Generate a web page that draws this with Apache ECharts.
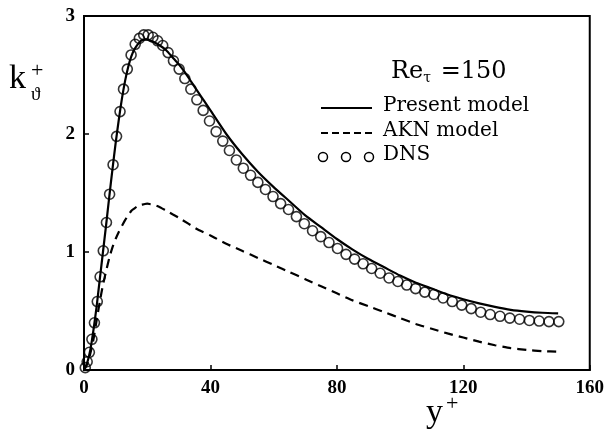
<!DOCTYPE html>
<html>
<head>
<meta charset="utf-8">
<script src="https://cdn.jsdelivr.net/npm/echarts@6/dist/echarts.min.js"></script>
<style>
    html, body { margin: 0; padding: 0; background: #fff; }
    #chart { width: 607px; height: 434px; }
</style>
</head>
<body>
<div id="chart"></div>
<script>
// DNS points (y+, k)
const dnsX = [0.4, 1.0, 1.7, 2.5, 3.3, 4.2, 5.1, 6.1, 7.1, 8.1, 9.2, 10.3, 11.4, 12.5, 13.7, 14.9, 16.2, 17.5, 18.9, 20.3,
    21.8, 23.3, 24.9, 26.6, 28.3, 30.1, 31.9, 33.8, 35.7, 37.7, 39.7, 41.8, 43.9, 46.0, 48.2, 50.4, 52.7, 55.0, 57.4, 59.8,
    62.2, 64.7, 67.2, 69.7, 72.3, 74.9, 77.5, 80.2, 82.9, 85.6, 88.3, 91.0, 93.7, 96.5, 99.3, 102.1, 104.9, 107.8, 110.7, 113.6,
    116.5, 119.5, 122.5, 125.5, 128.5, 131.6, 134.7, 137.8, 140.9, 144.0, 147.1, 150.2];
const dnsK = [0.02, 0.07, 0.15, 0.26, 0.40, 0.58, 0.79, 1.01, 1.25, 1.49, 1.74, 1.98, 2.19, 2.38, 2.55, 2.67, 2.76, 2.81, 2.84, 2.84,
    2.82, 2.79, 2.75, 2.69, 2.62, 2.55, 2.47, 2.38, 2.29, 2.20, 2.11, 2.02, 1.94, 1.86, 1.78, 1.71, 1.65, 1.59, 1.53, 1.47,
    1.41, 1.36, 1.30, 1.24, 1.18, 1.13, 1.08, 1.03, 0.98, 0.94, 0.90, 0.86, 0.82, 0.78, 0.75, 0.72, 0.69, 0.66, 0.64, 0.61,
    0.58, 0.55, 0.52, 0.49, 0.47, 0.455, 0.44, 0.43, 0.42, 0.415, 0.41, 0.41];

// Present model
const presentX = [0, 1, 2, 3, 4, 5, 6, 7, 8, 9, 10, 11, 12, 13, 14, 15, 16, 17, 18, 19, 20, 21, 22, 24, 26, 28, 30, 32, 34, 36, 38, 40,
    45, 50, 55, 60, 65, 70, 75, 80, 85, 90, 95, 100, 105, 110, 115, 120, 125, 130, 135, 140, 145, 150];
const presentK = [0, 0.06, 0.17, 0.34, 0.54, 0.77, 1.00, 1.23, 1.47, 1.70, 1.92, 2.12, 2.30, 2.45, 2.57, 2.66, 2.72, 2.76, 2.79, 2.80, 2.80, 2.79, 2.78, 2.75, 2.71, 2.65, 2.59, 2.52, 2.44, 2.36, 2.28, 2.20,
    2.00, 1.83, 1.68, 1.55, 1.43, 1.31, 1.21, 1.11, 1.02, 0.94, 0.87, 0.80, 0.74, 0.69, 0.64, 0.60, 0.565, 0.535, 0.51, 0.495, 0.485, 0.48];

// AKN model
const aknX = [0, 1, 2, 3, 4, 5, 6, 7, 8, 9, 10, 11, 12, 13, 14, 15, 16, 17, 18, 19, 20, 21, 22, 24, 26, 28, 30, 33, 36, 40,
    45, 50, 55, 60, 65, 70, 75, 80, 85, 90, 95, 100, 105, 110, 115, 120, 125, 130, 135, 140, 145, 150];
const aknK = [0, 0.05, 0.14, 0.26, 0.42, 0.58, 0.72, 0.84, 0.95, 1.04, 1.11, 1.17, 1.22, 1.27, 1.31, 1.35, 1.37, 1.39, 1.40, 1.405, 1.41, 1.405, 1.40, 1.38, 1.35, 1.32, 1.29, 1.24, 1.19, 1.14,
    1.07, 1.01, 0.95, 0.89, 0.83, 0.77, 0.71, 0.65, 0.59, 0.54, 0.49, 0.44, 0.39, 0.35, 0.31, 0.275, 0.24, 0.21, 0.185, 0.17, 0.16, 0.155];

const serif = '"Liberation Serif", "DejaVu Serif", serif';
const wideSerif = '"DejaVu Serif", "Liberation Serif", serif';

function pairs(xs, ys) {
    return xs.map((x, i) => [x, ys[i]]);
}

const chart = echarts.init(document.getElementById('chart'));

const option = {
    animation: false,
    backgroundColor: '#fff',
    grid: {
        left: 84, right: 17, top: 16, bottom: 64,
        show: true, borderColor: '#000', borderWidth: 2
    },
    xAxis: {
        type: 'value', min: 0, max: 160, interval: 40,
        axisLine: { show: true, lineStyle: { color: '#000', width: 2 } },
        axisTick: { show: true, inside: true, length: 5, lineStyle: { color: '#000', width: 1.5 } },
        axisLabel: { color: '#000', fontFamily: serif, fontSize: 19, fontWeight: 'bold', margin: 9 },
        splitLine: { show: false }
    },
    yAxis: {
        type: 'value', min: 0, max: 3, interval: 1,
        axisLine: { show: true, lineStyle: { color: '#000', width: 2 } },
        axisTick: { show: true, inside: true, length: 5, lineStyle: { color: '#000', width: 1.5 } },
        axisLabel: { color: '#000', fontFamily: serif, fontSize: 19, fontWeight: 'bold', margin: 9 },
        splitLine: { show: false }
    },
    series: [
        {
            name: 'Present model', type: 'line', data: pairs(presentX, presentK),
            showSymbol: false, smooth: 0.2,
            lineStyle: { color: '#000', width: 2.2 }, z: 3
        },
        {
            name: 'AKN model', type: 'line', data: pairs(aknX, aknK),
            showSymbol: false, smooth: 0.2,
            lineStyle: { color: '#000', width: 2.2, type: [9, 6] }, z: 3
        },
        {
            name: 'DNS', type: 'scatter', data: pairs(dnsX, dnsK),
            symbol: 'circle', symbolSize: 10,
            itemStyle: { color: 'rgba(0,0,0,0)', borderColor: '#000', borderWidth: 1.6 }, z: 4
        }
    ],
    graphic: [
        // Re_tau label
        {
            type: 'text', left: 391, top: 60,
            style: {
                text: '{a|Re}{s|τ}{a| =150}',
                fill: '#000',
                rich: {
                    a: { fontFamily: wideSerif, fontSize: 24, fill: '#000' },
                    s: { fontFamily: wideSerif, fontSize: 14, fill: '#000', verticalAlign: 'bottom', padding: [12, 2, 0, 0] }
                }
            }
        },
        // legend: Present model
        { type: 'line', shape: { x1: 321, y1: 108, x2: 372, y2: 108 }, style: { stroke: '#000', lineWidth: 2 } },
        { type: 'text', left: 383, top: 96, style: { text: 'Present model', fontFamily: wideSerif, fontSize: 20, fill: '#000' } },
        // legend: AKN model
        { type: 'line', shape: { x1: 321, y1: 133, x2: 372, y2: 133 }, style: { stroke: '#000', lineWidth: 2, lineDash: [7, 4] } },
        { type: 'text', left: 383, top: 121, style: { text: 'AKN model', fontFamily: wideSerif, fontSize: 20, fill: '#000' } },
        // legend: DNS
        { type: 'circle', shape: { cx: 323, cy: 157, r: 4.5 }, style: { fill: 'none', stroke: '#000', lineWidth: 1.5 } },
        { type: 'circle', shape: { cx: 346, cy: 157, r: 4.5 }, style: { fill: 'none', stroke: '#000', lineWidth: 1.5 } },
        { type: 'circle', shape: { cx: 369, cy: 157, r: 4.5 }, style: { fill: 'none', stroke: '#000', lineWidth: 1.5 } },
        { type: 'text', left: 383, top: 145, style: { text: 'DNS', fontFamily: wideSerif, fontSize: 20, fill: '#000' } },
        // y axis title k_theta^+
        { type: 'text', left: 9, top: 62, style: { text: 'k', fontFamily: serif, fontSize: 34, fill: '#000' } },
        { type: 'text', left: 31, top: 60, style: { text: '+', fontFamily: serif, fontSize: 22, fill: '#000' } },
        { type: 'text', left: 31, top: 86, style: { text: 'ϑ', fontFamily: serif, fontSize: 19, fill: '#000' } },
        // x axis title y^+
        { type: 'text', left: 426, top: 396, style: { text: 'y', fontFamily: serif, fontSize: 34, fill: '#000' } },
        { type: 'text', left: 446, top: 393, style: { text: '+', fontFamily: serif, fontSize: 22, fill: '#000' } }
    ]
};

option && chart.setOption(option);
</script>
</body>
</html>
